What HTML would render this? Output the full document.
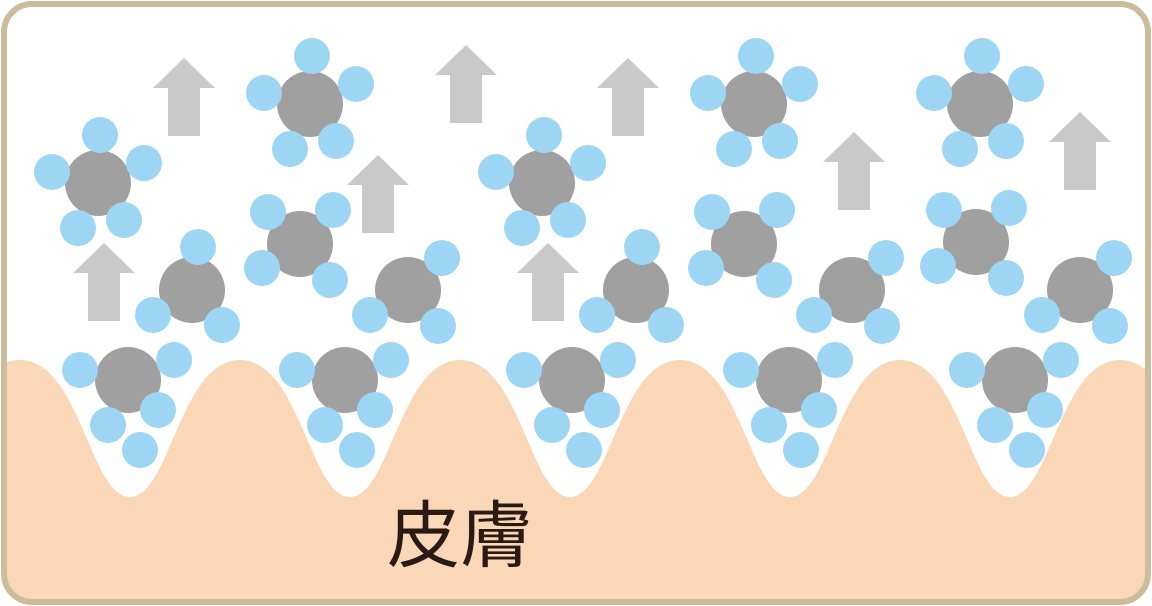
<!DOCTYPE html>
<html><head><meta charset="utf-8"><style>html,body{margin:0;padding:0;background:#fff}svg{display:block}</style></head><body>
<svg width="1152" height="606" viewBox="0 0 1152 606" xmlns="http://www.w3.org/2000/svg">
<defs>
<clipPath id="c"><rect x="4" y="4" width="1144" height="598" rx="28"/></clipPath>
<g id="ar"><polygon points="0,0 31,30 16,30 16,78 -16,78 -16,30 -31,30" fill="#c9c9c9"/></g>
<g id="m5"><circle cx="0" cy="0" r="33" fill="#a0a0a0"/><circle cx="2" cy="-48" r="18" fill="#9dd6f4"/><circle cx="-46" cy="-11" r="18" fill="#9dd6f4"/><circle cx="46" cy="-20" r="18" fill="#9dd6f4"/><circle cx="-20" cy="45" r="18" fill="#9dd6f4"/><circle cx="26" cy="37" r="18" fill="#9dd6f4"/></g>
<g id="m4"><circle cx="0" cy="0" r="33" fill="#a0a0a0"/><circle cx="-32" cy="-32" r="18" fill="#9dd6f4"/><circle cx="33" cy="-34" r="18" fill="#9dd6f4"/><circle cx="-38" cy="24" r="18" fill="#9dd6f4"/><circle cx="30" cy="36" r="18" fill="#9dd6f4"/></g>
<g id="m3"><circle cx="0" cy="0" r="33" fill="#a0a0a0"/><circle cx="6" cy="-43" r="18" fill="#9dd6f4"/><circle cx="-39" cy="25" r="18" fill="#9dd6f4"/><circle cx="30" cy="35" r="18" fill="#9dd6f4"/></g>
<g id="m3b"><circle cx="0" cy="0" r="33" fill="#a0a0a0"/><circle cx="34" cy="-32" r="18" fill="#9dd6f4"/><circle cx="-38" cy="25" r="18" fill="#9dd6f4"/><circle cx="30" cy="36" r="18" fill="#9dd6f4"/></g>
<g id="mb"><circle cx="0" cy="0" r="33" fill="#a0a0a0"/><circle cx="-48" cy="-10" r="18" fill="#9dd6f4"/><circle cx="46" cy="-20" r="18" fill="#9dd6f4"/><circle cx="-20" cy="45" r="18" fill="#9dd6f4"/><circle cx="30" cy="30" r="18" fill="#9dd6f4"/><circle cx="12" cy="70" r="18" fill="#9dd6f4"/></g>
</defs>
<g clip-path="url(#c)">
<rect width="1152" height="606" fill="#fff"/>
<path d="M-90,497 C-50,497 -40,360 20,360 C80,360 90,497 130,497 C170,497 180,360 240,360 C300,360 310,497 350,497 C390,497 400,360 460,360 C520,360 530,497 570,497 C610,497 620,360 680,360 C740,360 750,497 790,497 C830,497 840,360 900,360 C960,360 970,497 1010,497 C1050,497 1060,360 1120,360 C1180,360 1190,497 1230,497 L1230,606 L-90,606 Z" fill="#f9d7b7"/>
<use href="#ar" x="184" y="58"/><use href="#ar" x="466" y="45"/><use href="#ar" x="378" y="155"/><use href="#ar" x="104" y="243"/><use href="#ar" x="548" y="243"/><use href="#ar" x="628" y="58"/><use href="#ar" x="854" y="132"/><use href="#ar" x="1080" y="112"/>
<use href="#m5" x="98" y="183"/><use href="#m5" x="310" y="104"/><use href="#m4" x="300" y="244"/><use href="#m3" x="192" y="290"/><use href="#m3b" x="408" y="290"/><use href="#mb" x="128" y="380"/><use href="#mb" x="345" y="380"/>
<use href="#m5" x="542" y="183"/><use href="#m5" x="754" y="104"/><use href="#m4" x="744" y="244"/><use href="#m3" x="636" y="290"/><use href="#m3b" x="852" y="290"/><use href="#mb" x="572" y="380"/><use href="#mb" x="789" y="380"/>
<use href="#m5" x="980" y="104"/><use href="#m4" x="976" y="242"/><use href="#m3b" x="1080" y="290"/><use href="#mb" x="1015" y="380"/>
<text x="387" y="561" font-family="Liberation Sans, Noto Sans CJK JP, sans-serif" font-size="73" fill="#2b1a14">皮膚</text>
</g>
<rect x="4" y="4" width="1144" height="598" rx="28" fill="none" stroke="#cbbd9c" stroke-width="6"/>
</svg>
</body></html>
